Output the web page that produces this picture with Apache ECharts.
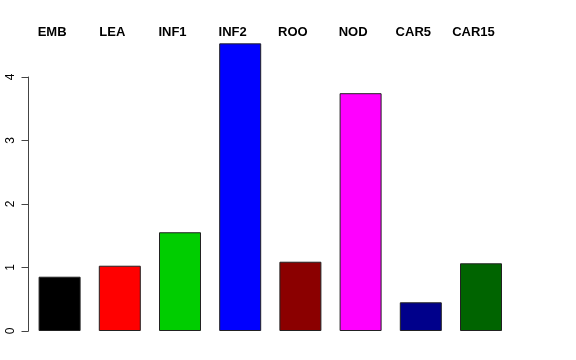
<!DOCTYPE html>
<html>
<head>
<meta charset="utf-8">
<script src="https://cdn.jsdelivr.net/npm/echarts@6/dist/echarts.min.js"></script>
<style>html,body{margin:0;padding:0;background:#fff}#c{width:576px;height:360px}</style>
</head>
<body>
<div id="c"></div>
<script>
const categories = ["EMB", "LEA", "INF1", "INF2", "ROO", "NOD", "CAR5", "CAR15"];
const values = [0.855, 1.028, 1.555, 4.53, 1.091, 3.745, 0.452, 1.066];
const barColors = ["#000000", "#FF0000", "#00CD00", "#0000FF", "#8B0000", "#FF00FF", "#00008B", "#006400"];
const yTicks = [0, 1, 2, 3, 4];

const chart = echarts.init(document.getElementById('c'), null, {renderer: 'canvas'});
chart.setOption({
  backgroundColor: '#ffffff',
  animation: false,
  grid: {left: 29.5, right: 64.9, top: 77, bottom: 29, containLabel: false},
  xAxis: {
    type: 'category',
    data: categories,
    position: 'top',
    axisLine: {show: false},
    axisTick: {show: false},
    axisLabel: {
      margin: 38,
      fontFamily: 'Liberation Sans, Arial, sans-serif',
      fontWeight: 'bold',
      fontSize: 13,
      color: '#000',
      padding: [0, 15, 0, 0],
      interval: 0
    }
  },
  yAxis: {
    type: 'value',
    min: yTicks[0],
    max: yTicks[yTicks.length - 1],
    interval: 1,
    offset: 1,
    splitLine: {show: false},
    axisLine: {show: true, lineStyle: {color: '#444', width: 1}},
    axisTick: {show: true, length: 7, lineStyle: {color: '#444', width: 1}},
    axisLabel: {
      rotate: 90,
      margin: 12,
      fontFamily: 'Liberation Sans, Arial, sans-serif',
      fontSize: 12,
      color: '#000'
    }
  },
  series: [{
    type: 'bar',
    clip: false,
    barWidth: 42,
    data: values.map((v, i) => ({
      value: v,
      itemStyle: {color: barColors[i], borderColor: '#222', borderWidth: 1}
    }))
  }]
});
</script>
</body>
</html>
